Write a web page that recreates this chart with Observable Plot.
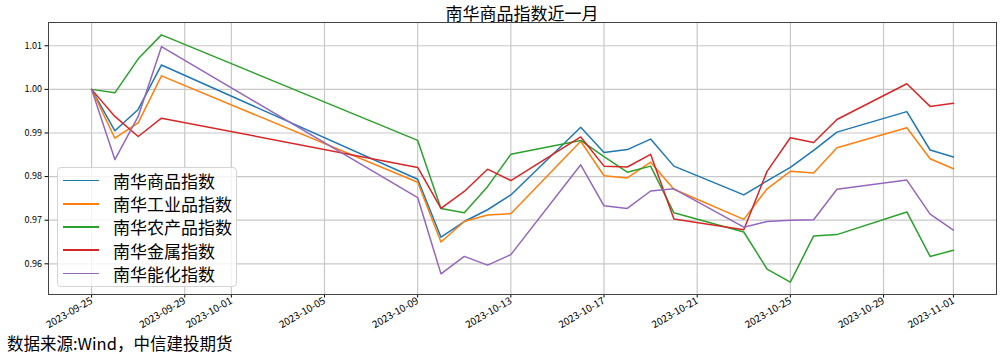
<!DOCTYPE html>
<html><head><meta charset="utf-8">
<script src="https://cdn.jsdelivr.net/npm/d3@7"></script>
<script src="https://cdn.jsdelivr.net/npm/@observablehq/plot@0.6"></script>
<style>
body{margin:0;background:#fff;font-family:"Noto Sans CJK SC",sans-serif;}
#wrap{position:relative;width:1003px;height:354px;overflow:hidden;background:#fff;}
#title{height:20px;line-height:25px;text-align:center;font-size:17px;color:#000;padding-left:41px;white-space:nowrap;}
#chart svg{display:block;}
#caption{height:26px;line-height:30px;font-size:16.5px;padding-left:7px;color:#000;white-space:nowrap;}
#legend{position:absolute;left:57px;top:167px;width:178px;padding:1px 0;border:1px solid #d4d4d4;border-radius:4px;background:rgba(255,255,255,0.8);}
.row{display:flex;align-items:center;height:23.2px;}
.sw{display:inline-block;width:36px;height:1.5px;margin-left:5px;margin-right:14px;}
.lt{font-size:17px;line-height:23px;color:#000;}
</style>
</head><body>
<div id="wrap">
  <div id="title">南华商品指数近一月</div>
  <div id="chart"></div>
  <div id="caption">数据来源:Wind，中信建投期货</div>
  <div id="legend"></div>
</div>
<script>
const dates = ["2023-09-25","2023-09-26","2023-09-27","2023-09-28","2023-10-09","2023-10-10","2023-10-11","2023-10-12","2023-10-13","2023-10-16","2023-10-17","2023-10-18","2023-10-19","2023-10-20","2023-10-23","2023-10-24","2023-10-25","2023-10-26","2023-10-27","2023-10-30","2023-10-31","2023-11-01"];
const seriesNames = ["南华商品指数","南华工业品指数","南华农产品指数","南华金属指数","南华能化指数"];
const colors = ["#1f77b4","#ff7f0e","#2ca02c","#d62728","#9467bd"];
const commodity = [1.0000,0.9905,0.9954,1.0056,0.9794,0.9661,0.9697,0.9724,0.9758,0.9913,0.9855,0.9862,0.9886,0.9824,0.9758,0.9790,0.9821,0.9860,0.9902,0.9949,0.9861,0.9845];
const industrial = [1.0000,0.9888,0.9923,1.0031,0.9787,0.9650,0.9697,0.9712,0.9715,0.9881,0.9802,0.9797,0.9833,0.9771,0.9702,0.9772,0.9812,0.9808,0.9866,0.9912,0.9841,0.9818];
const agricultural = [1.0000,0.9992,1.0070,1.0125,0.9883,0.9727,0.9717,0.9777,0.9851,0.9883,0.9846,0.9810,0.9824,0.9717,0.9673,0.9588,0.9558,0.9664,0.9667,0.9719,0.9617,0.9631];
const metals = [1.0000,0.9938,0.9892,0.9934,0.9821,0.9727,0.9766,0.9817,0.9791,0.9891,0.9824,0.9822,0.9851,0.9703,0.9678,0.9812,0.9889,0.9878,0.9931,1.0013,0.9961,0.9968];
const energyChem = [1.0000,0.9839,0.9938,1.0098,0.9752,0.9577,0.9617,0.9597,0.9621,0.9827,0.9733,0.9727,0.9767,0.9772,0.9684,0.9697,0.9700,0.9701,0.9771,0.9792,0.9714,0.9677];
const xTickLabels = ["2023-09-25","2023-09-29","2023-10-01","2023-10-05","2023-10-09","2023-10-13","2023-10-17","2023-10-21","2023-10-25","2023-10-29","2023-11-01"];
const yTicks = [0.96,0.97,0.98,0.99,1.00,1.01];

const allSeries = [commodity, industrial, agricultural, metals, energyChem];
const parse = d3.utcParse("%Y-%m-%d");
const data = [];
allSeries.forEach((vals, i) => vals.forEach((v, j) => data.push({series: seriesNames[i], date: parse(dates[j]), value: v})));
const xTicks = xTickLabels.map(parse);
const first = parse(dates[0]), last = parse(dates[dates.length-1]);
const pad = (last - first) * 0.05;
const ext = d3.extent(data, d => d.value);
const ypad = (ext[1] - ext[0]) * 0.05;
const fmtDate = d3.utcFormat("%Y-%m-%d");

const chart = Plot.plot({
  width: 1003, height: 308,
  marginLeft: 48, marginRight: 7, marginTop: 2, marginBottom: 34,
  style: {fontFamily: '"Noto Sans CJK SC", sans-serif', fontSize: "9px", color: "#000", background: "#fff", overflow: "visible"},
  x: {type: "utc", domain: [new Date(+first - pad), new Date(+last + pad)], label: null},
  y: {domain: [ext[0] - ypad, ext[1] + ypad], label: null},
  color: {domain: seriesNames, range: colors},
  marks: [
    Plot.gridX(xTicks, {stroke: "#c8c8c8", strokeOpacity: 1, strokeWidth: 1.2}),
    Plot.gridY(yTicks, {stroke: "#c8c8c8", strokeOpacity: 1, strokeWidth: 1.2}),
    Plot.axisX({ticks: xTicks, tickFormat: fmtDate, tickRotate: -30, tickSize: 3.5, tickPadding: 2, fontSize: 10, label: null}),
    Plot.axisY({ticks: yTicks, tickFormat: d3.format(".2f"), tickSize: 3.5, tickPadding: 3, label: null}),
    Plot.line(data, {x: "date", y: "value", stroke: "series", z: "series", strokeWidth: 1.5}),
    Plot.frame({stroke: "#444", strokeWidth: 1})
  ]
});
document.getElementById("chart").appendChild(chart);

const legend = document.getElementById("legend");
seriesNames.forEach((name, i) => {
  const row = document.createElement("div");
  row.className = "row";
  const sw = document.createElement("span");
  sw.className = "sw";
  sw.style.background = colors[i];
  const t = document.createElement("span");
  t.className = "lt";
  t.textContent = name;
  row.appendChild(sw); row.appendChild(t);
  legend.appendChild(row);
});
</script>
</body></html>
